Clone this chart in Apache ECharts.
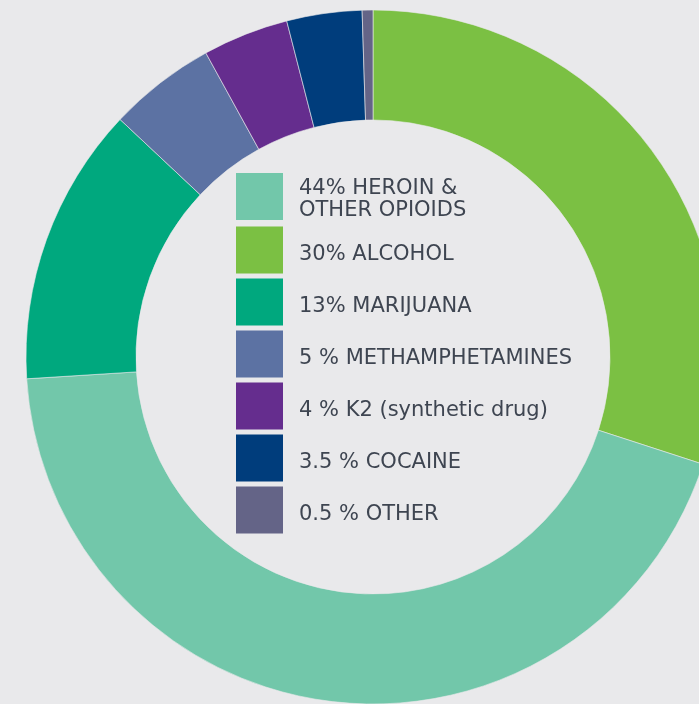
<!DOCTYPE html>
<html>
<head>
<meta charset="utf-8">
<script src="https://cdn.jsdelivr.net/npm/echarts@6/dist/echarts.min.js"></script>
<style>
  html, body { margin: 0; padding: 0; background: #e9e9eb; }
  #main { width: 699px; height: 704px; }
</style>
</head>
<body>
<div id="main"></div>
<script>
// data (clockwise from 12 o'clock)
var names = ['30% ALCOHOL', '44% HEROIN &\nOTHER OPIOIDS', '13% MARIJUANA', '5 % METHAMPHETAMINES',
  '4 % K2 (synthetic drug)', '3.5 % COCAINE', '0.5 % OTHER'];
var values = [30, 44, 13, 5, 4, 3.5, 0.5];
var colors = ['#7bc043', '#72c7aa', '#00a87e', '#5c72a3', '#652d8e', '#003d7c', '#646487'];
// legend order
var legendOrder = ['44% HEROIN &\nOTHER OPIOIDS', '30% ALCOHOL', '13% MARIJUANA', '5 % METHAMPHETAMINES',
  '4 % K2 (synthetic drug)', '3.5 % COCAINE', '0.5 % OTHER'];

var chart = echarts.init(document.getElementById('main'));

var pieData = [];
for (var i = 0; i < names.length; i++) {
  pieData.push({ name: names[i], value: values[i], itemStyle: { color: colors[i] } });
}

var option = {
  backgroundColor: '#e9e9eb',
  animation: false,
  legend: {
    data: legendOrder,
    orient: 'vertical',
    left: 236,
    top: 173,
    padding: 0,
    itemWidth: 47,
    itemHeight: 47,
    itemGap: 5,
    icon: 'rect',
    selectedMode: false,
    itemStyle: { borderWidth: 0 },
    // spacer line sets the vertical offset; two-line entry kept within the box height
    formatter: function (name) {
      var lines = name.split('\n');
      if (lines.length > 1) {
        return '{s3| }\n{t|' + lines[0] + '}\n{b|' + lines[1] + '}';
      }
      return '{s15| }\n{t|' + name + '}';
    },
    textStyle: {
      fontFamily: 'DejaVu Sans',
      fontSize: 21,
      color: '#3e4551',
      height: 46,
      padding: [0, 0, 0, 11],
      rich: {
        t: { fontFamily: 'DejaVu Sans', fontSize: 21, color: '#3e4551', lineHeight: 26 },
        b: { fontFamily: 'DejaVu Sans', fontSize: 21, color: '#3e4551', lineHeight: 19 },
        s3: { fontSize: 1, lineHeight: 2 },
        s15: { fontSize: 1, lineHeight: 15 }
      }
    }
  },
  series: [{
    type: 'pie',
    center: [373, 357],
    radius: [237, 347],
    startAngle: 90,
    clockwise: true,
    label: { show: false },
    labelLine: { show: false },
    emphasis: { disabled: true },
    itemStyle: { borderColor: '#e9e9eb', borderWidth: 0.6 },
    data: pieData
  }]
};

chart.setOption(option);
</script>
</body>
</html>
